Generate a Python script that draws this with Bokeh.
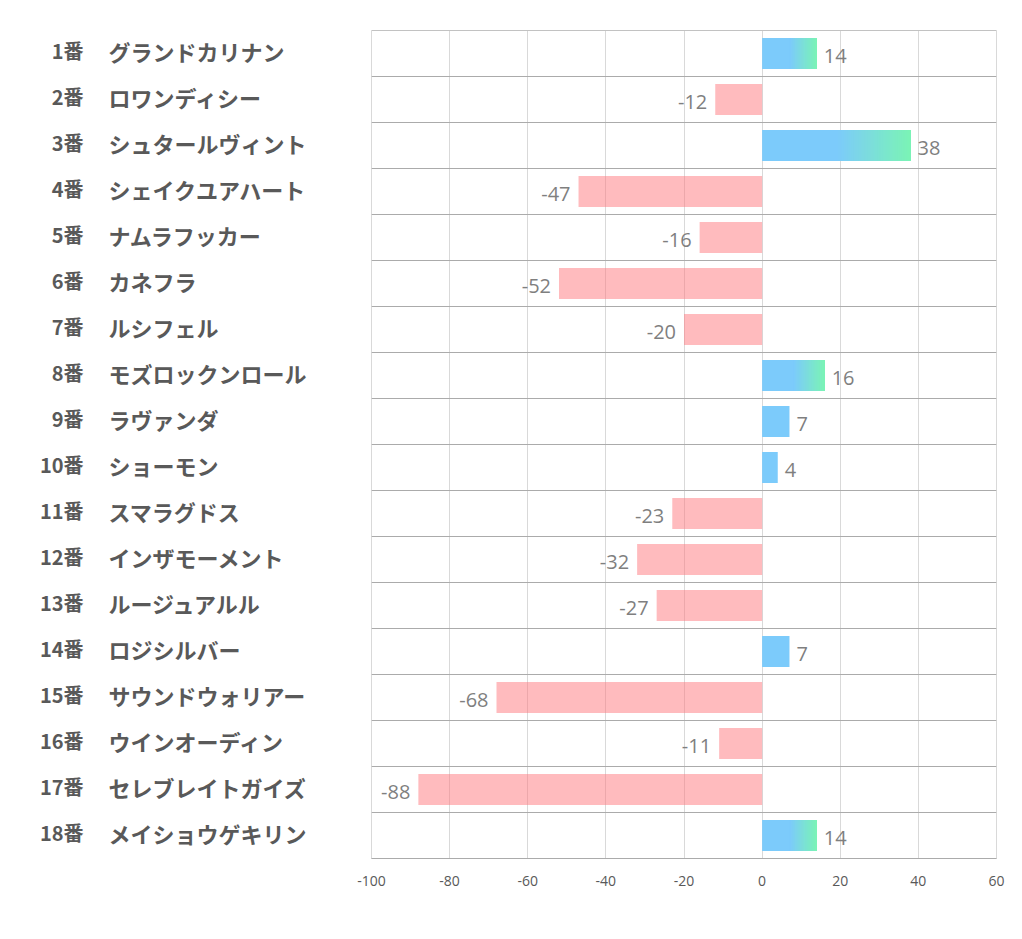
from bokeh.plotting import figure
from bokeh.layouts import row
from bokeh.models import ColumnDataSource, FixedTicker, Range1d, Span
from bokeh.embed import file_html
from bokeh.resources import INLINE
from bokeh.core.properties import value

numbers = ["1番", "2番", "3番", "4番", "5番", "6番", "7番", "8番", "9番",
           "10番", "11番", "12番", "13番", "14番", "15番", "16番", "17番", "18番"]
names = ["グランドカリナン", "ロワンディシー", "シュタールヴィント", "シェイクユアハート",
         "ナムラフッカー", "カネフラ", "ルシフェル", "モズロックンロール", "ラヴァンダ",
         "ショーモン", "スマラグドス", "インザモーメント", "ルージュアルル", "ロジシルバー",
         "サウンドウォリアー", "ウインオーディン", "セレブレイトガイズ", "メイショウゲキリン"]
values = [14, -12, 38, -47, -16, -52, -20, 16, 7, 4, -23, -32, -27, 7, -68, -11, -88, 14]
x_ticks = [-100, -80, -60, -40, -20, 0, 20, 40, 60]
x_tick_labels = ["-100", "-80", "-60", "-40", "-20", "0", "20", "40", "60"]

X_MIN, X_MAX = -100, 60
GRADIENT_MIN = 10  # bars at least this long get the blue->green gradient
BLUE = (124, 203, 251)
GREEN = (123, 243, 182)

n = len(values)
rows = list(range(n))
y_range = Range1d(n - 0.5, -0.5)

TOP, BOTTOM = 30, 55
H = 913
LEFT_W = 341
GAP = 30

# ---- left panel with the category labels ----
lp = figure(width=LEFT_W, height=H, output_backend="svg", toolbar_location=None,
            x_range=Range1d(0, LEFT_W), y_range=y_range,
            min_border_left=0, min_border_right=0, min_border_top=TOP, min_border_bottom=BOTTOM)
lp.axis.visible = False
lp.grid.visible = False
lp.outline_line_color = None
cat_src = ColumnDataSource(dict(y=rows, num=numbers, name=names,
                                xn=[83] * n, xm=[108] * n))
lp.text(x="xn", y="y", text="num", source=cat_src, text_align="right",
        text_baseline="middle", text_color="#595959", y_offset=-3,
        text_font=value("Noto Sans CJK JP"), text_font_style="bold", text_font_size="20px")
lp.text(x="xm", y="y", text="name", source=cat_src, text_align="left",
        text_baseline="middle", text_color="#595959", y_offset=-3,
        text_font=value("Noto Sans CJK JP"), text_font_style="bold", text_font_size="22px")

# ---- main chart ----
p = figure(width=1008 - LEFT_W, height=H, output_backend="svg", toolbar_location=None,
           x_range=Range1d(X_MIN, X_MAX), y_range=y_range,
           min_border_left=GAP, min_border_top=TOP, min_border_right=12, min_border_bottom=BOTTOM)
p.outline_line_color = "#D9D9D9"

p.xgrid.ticker = FixedTicker(ticks=x_ticks)
p.xgrid.grid_line_color = "#D9D9D9"
p.ygrid.ticker = FixedTicker(ticks=[i - 0.5 for i in range(n + 1)])
p.ygrid.grid_line_color = "#ABABAB"
p.add_layout(Span(location=-0.5, dimension="width", line_color="#ABABAB", line_width=1))

p.yaxis.visible = False
p.xaxis.ticker = FixedTicker(ticks=x_ticks)
p.xaxis.major_label_overrides = {t: s for t, s in zip(x_ticks, x_tick_labels)}
p.xaxis.axis_line_color = "#ABABAB"
p.xaxis.major_tick_line_color = None
p.xaxis.minor_tick_line_color = None
p.xaxis.major_label_text_color = "#595959"
p.xaxis.major_label_text_font = "Open Sans"
p.xaxis.major_label_text_font_size = "14px"
p.xaxis.major_label_standoff = 11

BAR_H = 0.67
pos_rows = [r for r in rows if values[r] > 0]
neg_rows = [r for r in rows if values[r] < 0]

neg_src = ColumnDataSource(dict(y=neg_rows, left=[values[r] for r in neg_rows],
                                right=[0] * len(neg_rows)))
p.hbar(y="y", left="left", right="right", height=BAR_H, source=neg_src,
       fill_color="#FF777D", fill_alpha=0.5, line_color=None)

pos_src = ColumnDataSource(dict(y=pos_rows, left=[0] * len(pos_rows),
                                right=[values[r] for r in pos_rows]))
p.hbar(y="y", left="left", right="right", height=BAR_H, source=pos_src,
       fill_color="#7CCBFB", line_color=None)

N = 40
gy, gl, gr, gc = [], [], [], []
for r in pos_rows:
    v = values[r]
    if v < GRADIENT_MIN:
        continue
    for k in range(N):
        t = k / (N - 1)
        c = tuple(int(round(BLUE[j] + (GREEN[j] - BLUE[j]) * t)) for j in range(3))
        gy.append(r)
        gl.append(v * (0.5 + 0.5 * k / N))
        gr.append(v)
        gc.append("#%02x%02x%02x" % c)
p.hbar(y="y", left="left", right="right", height=BAR_H, fill_color="color", line_color=None,
       source=ColumnDataSource(dict(y=gy, left=gl, right=gr, color=gc)))

lab_pos = ColumnDataSource(dict(x=[values[r] for r in pos_rows], y=pos_rows,
                                t=[str(values[r]) for r in pos_rows]))
lab_neg = ColumnDataSource(dict(x=[values[r] for r in neg_rows], y=neg_rows,
                                t=[str(values[r]) for r in neg_rows]))
p.text(x="x", y="y", text="t", source=lab_pos, x_offset=7, y_offset=2,
       text_align="left", text_baseline="middle", text_color="#7F7F7F",
       text_font=value("Open Sans"), text_font_size="20px")
p.text(x="x", y="y", text="t", source=lab_neg, x_offset=-8, y_offset=2,
       text_align="right", text_baseline="middle", text_color="#7F7F7F",
       text_font=value("Open Sans"), text_font_size="20px")

layout = row(lp, p, spacing=0)
open("out.html", "w").write(file_html(layout, INLINE))
